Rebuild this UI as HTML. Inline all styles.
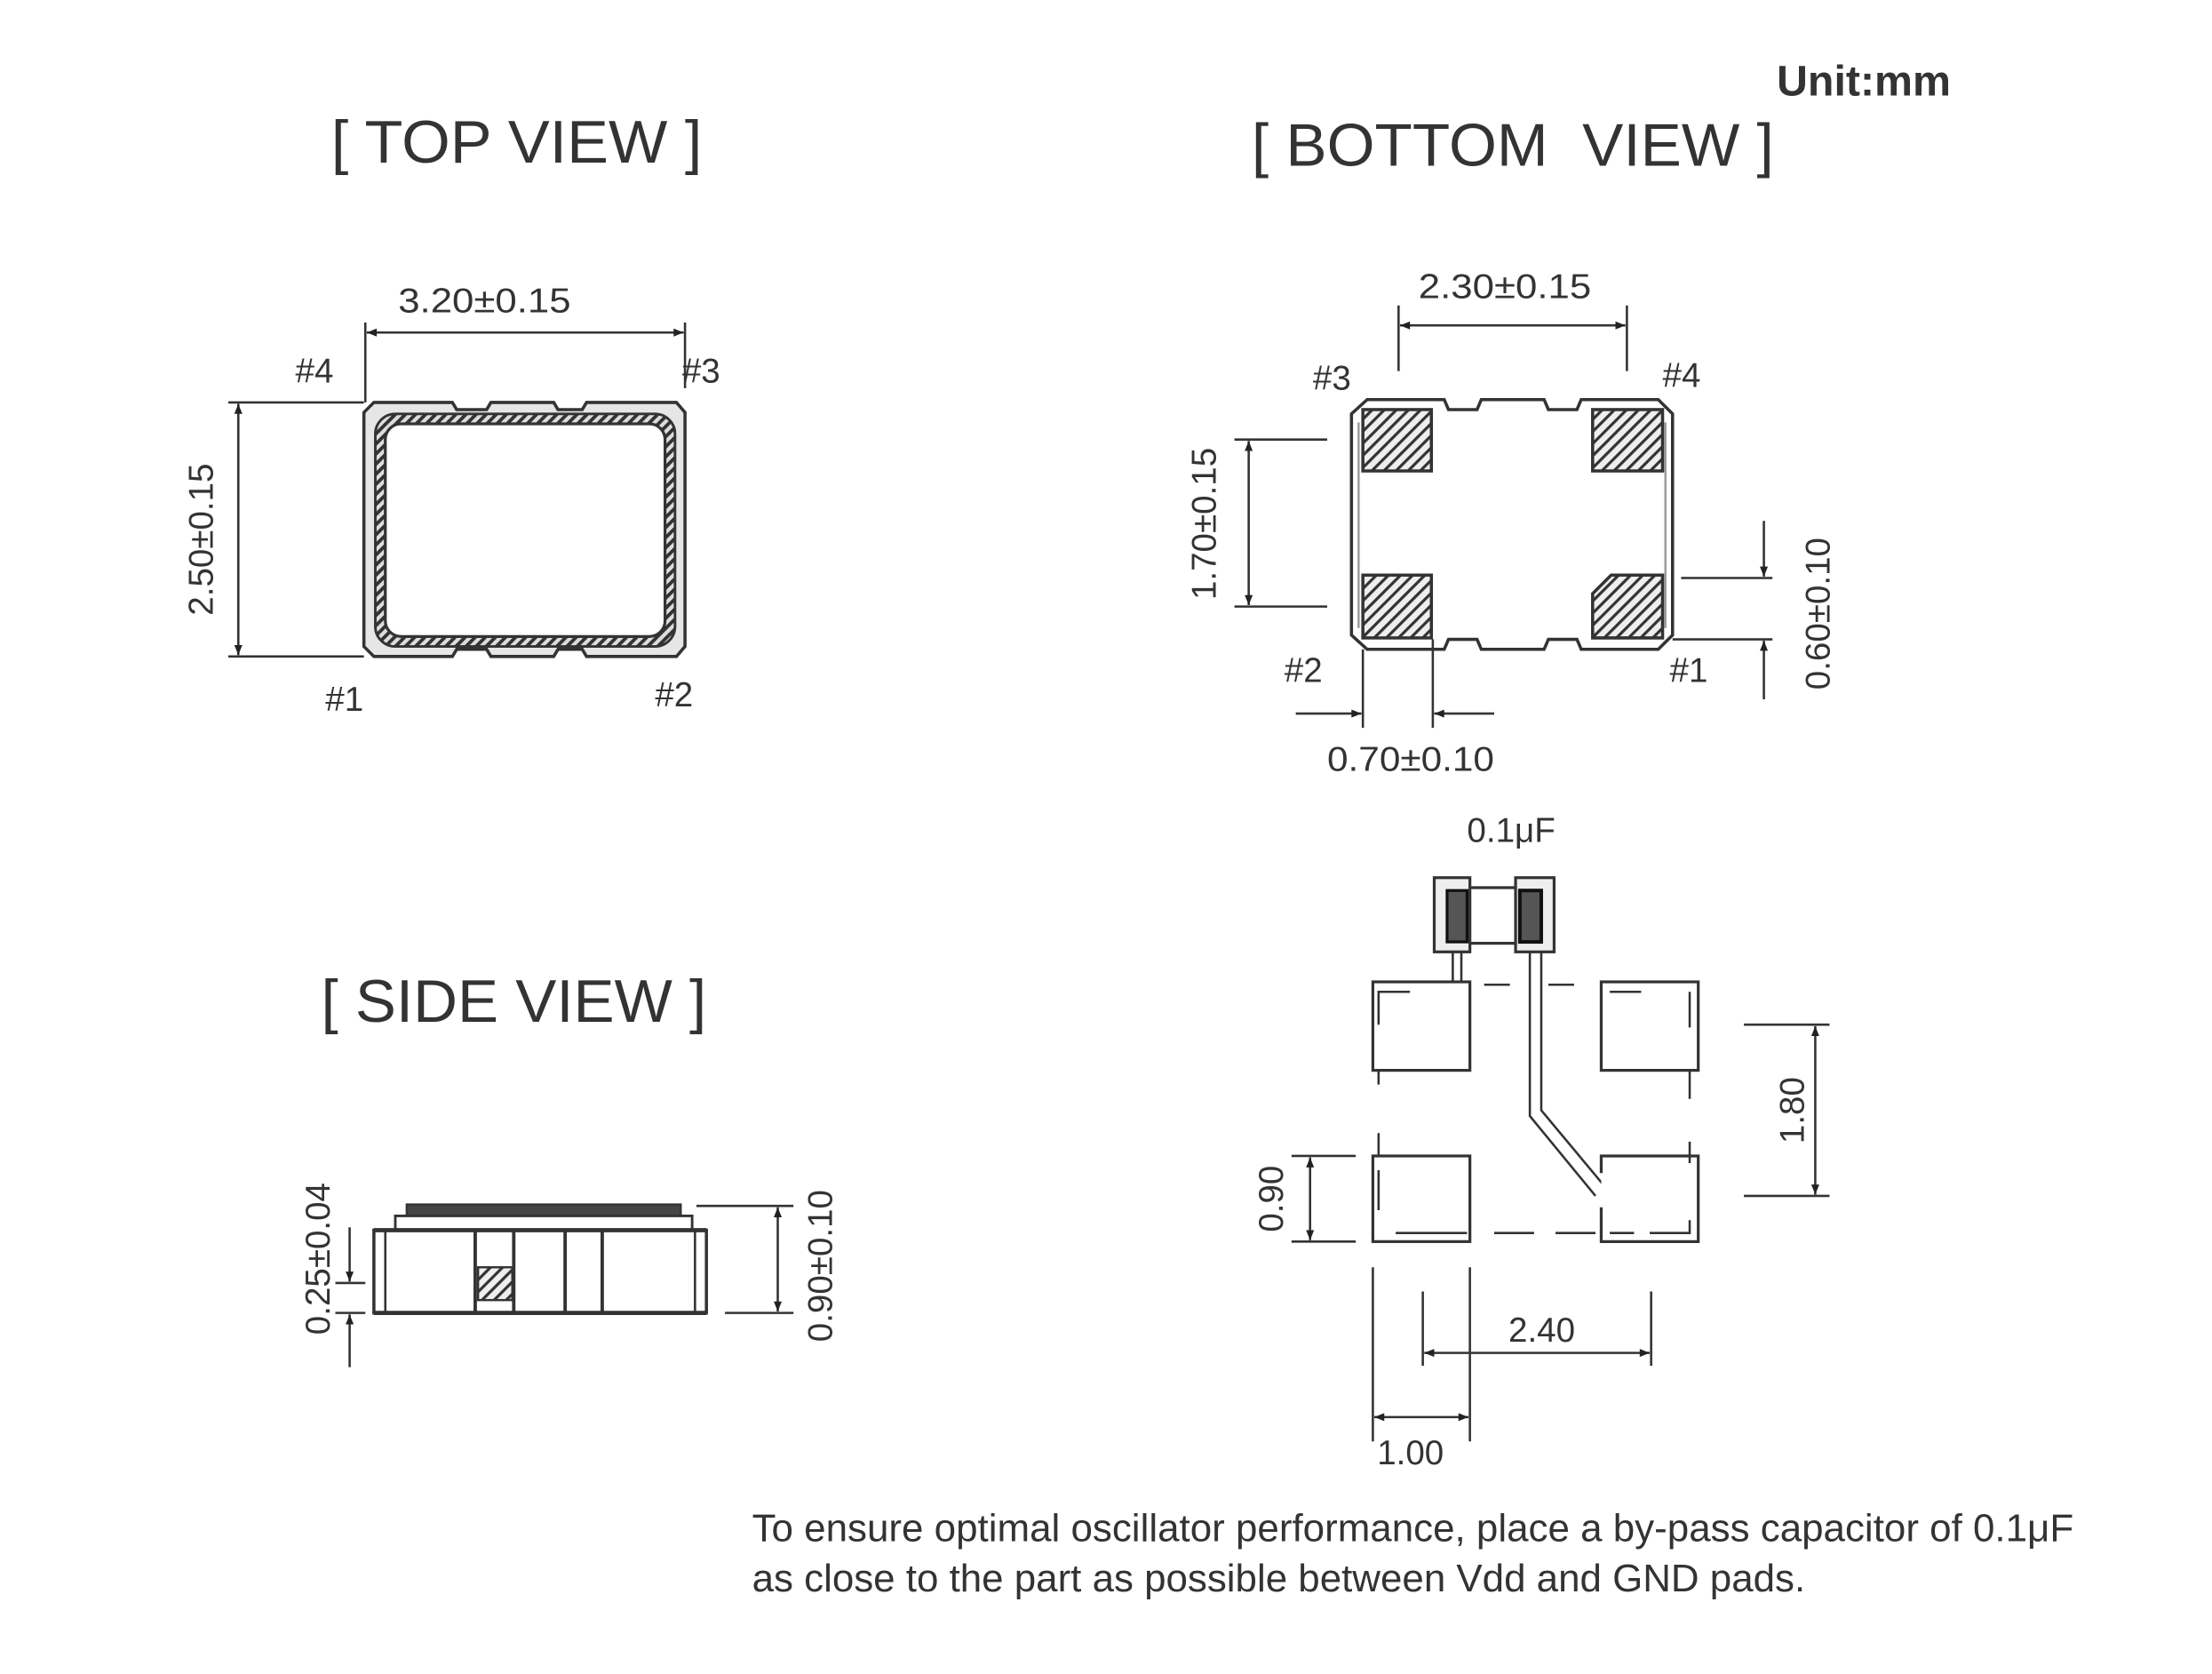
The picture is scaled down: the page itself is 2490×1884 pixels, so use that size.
<!DOCTYPE html>
<html><head><meta charset="utf-8"><style>
html,body{margin:0;padding:0;background:#fff;}
svg{display:block;}
text{font-family:"Liberation Sans",Arial,sans-serif;fill:#333;}
</style></head><body>
<svg width="2490" height="1884" viewBox="0 0 1550 1173" preserveAspectRatio="none" xmlns="http://www.w3.org/2000/svg">
<defs>
<pattern id="h" width="6" height="6" patternUnits="userSpaceOnUse" patternTransform="rotate(45)">
<rect width="6" height="6" fill="#eee"/><rect width="2" height="6" fill="#333"/></pattern>
<pattern id="hr" width="5" height="5" patternUnits="userSpaceOnUse" patternTransform="rotate(45)">
<rect width="5" height="5" fill="#ddd"/><rect width="2.4" height="5" fill="#333"/></pattern>
<marker id="a" viewBox="0 0 10 10" refX="10" refY="5" markerWidth="14" markerHeight="7" orient="auto-start-reverse" markerUnits="userSpaceOnUse"><path d="M0,1 L10,5 L0,9 z" fill="#222"/></marker>
</defs>
<g stroke="#333" fill="none" stroke-width="1.6">

<!-- TOP VIEW -->
<path d="M262,282 L317,282 L320,287 L341,287 L344,282 L388,282 L391,287 L408,287 L411,282 L474,282 L480,289 L480,453 L474,460 L411,460 L408,455 L391,455 L388,460 L344,460 L341,455 L320,455 L317,460 L262,460 L255,453 L255,289 Z" fill="#e6e6e6" stroke-width="2.2"/>
<rect x="263" y="290" width="210" height="163" rx="14" fill="url(#hr)" stroke-width="1.8"/>
<rect x="270" y="297" width="196" height="149" rx="11" fill="#fff" stroke-width="2"/>
<line x1="256" y1="226" x2="256" y2="282"/>
<line x1="480" y1="226" x2="480" y2="272"/>
<line x1="257" y1="233" x2="479" y2="233" marker-start="url(#a)" marker-end="url(#a)"/>
<line x1="160" y1="282" x2="255" y2="282"/>
<line x1="160" y1="460" x2="255" y2="460"/>
<line x1="167" y1="283" x2="167" y2="459" marker-start="url(#a)" marker-end="url(#a)"/>

<!-- BOTTOM VIEW -->
<path d="M958,280 L1012,280 L1015,287 L1035,287 L1038,280 L1082,280 L1085,287 L1105,287 L1108,280 L1162,280 L1172,290 L1172,445 L1162,455 L1108,455 L1105,448 L1085,448 L1082,455 L1038,455 L1035,448 L1015,448 L1012,455 L958,455 L947,445 L947,290 Z" fill="#fff" stroke-width="2.2"/>
<line x1="952" y1="296" x2="952" y2="440" stroke="#999" stroke-width="1.5"/>
<line x1="1167" y1="296" x2="1167" y2="440" stroke="#999" stroke-width="1.5"/>
<rect x="955" y="287" width="48" height="43" fill="url(#h)" stroke-width="2.2"/>
<rect x="1116" y="287" width="49" height="43" fill="url(#h)" stroke-width="2.2"/>
<rect x="955" y="403" width="48" height="44" fill="url(#h)" stroke-width="2.2"/>
<path d="M1129,403 L1165,403 L1165,447 L1116,447 L1116,416 Z" fill="url(#h)" stroke-width="2.2"/>
<line x1="980" y1="214" x2="980" y2="260"/>
<line x1="1140" y1="214" x2="1140" y2="260"/>
<line x1="981" y1="228" x2="1139" y2="228" marker-start="url(#a)" marker-end="url(#a)"/>
<line x1="865" y1="308" x2="930" y2="308"/>
<line x1="865" y1="425" x2="930" y2="425"/>
<line x1="875" y1="309" x2="875" y2="424" marker-start="url(#a)" marker-end="url(#a)"/>
<line x1="1178" y1="405" x2="1242" y2="405"/>
<line x1="1172" y1="448" x2="1242" y2="448"/>
<line x1="1236" y1="365" x2="1236" y2="404" marker-end="url(#a)"/>
<line x1="1236" y1="490" x2="1236" y2="449" marker-end="url(#a)"/>
<line x1="955" y1="455" x2="955" y2="510"/>
<line x1="1004" y1="448" x2="1004" y2="510"/>
<line x1="908" y1="500" x2="954" y2="500" marker-end="url(#a)"/>
<line x1="1047" y1="500" x2="1005" y2="500" marker-end="url(#a)"/>

<!-- LAND PATTERN -->
<rect x="1005" y="615" width="25" height="52" fill="#eee" stroke-width="2"/>
<rect x="1062" y="615" width="27" height="52" fill="#eee" stroke-width="2"/>
<rect x="1014" y="624" width="14" height="36" fill="#555" stroke="#111" stroke-width="2"/>
<rect x="1065" y="624" width="15" height="36" fill="#555" stroke="#111" stroke-width="2.5"/>
<line x1="1030" y1="622" x2="1062" y2="622" stroke-width="2"/>
<line x1="1030" y1="661" x2="1062" y2="661" stroke-width="2"/>
<path d="M1018,667 L1018,688 M1024,667 L1024,688" stroke-width="1.6"/>
<path d="M1072,667 L1072,782 L1118,838 M1080,667 L1080,778 L1125,832" stroke-width="1.6"/>
<rect x="962" y="688" width="68" height="62" fill="#fff" stroke-width="2"/>
<rect x="1122" y="688" width="68" height="62" fill="#fff" stroke-width="2"/>
<rect x="962" y="810" width="68" height="60" fill="#fff" stroke-width="2"/>
<path d="M1122,822 L1122,810 L1190,810 L1190,870 L1122,870 L1122,846" fill="#fff" stroke-width="2"/>
<path d="M966,718 L966,695 L988,695 M1184,695 L1184,720 M1128,695 L1150,695 M966,820 L966,848 M978,864 L1028,864 M1184,855 L1184,864 L1156,864" stroke-width="1.6"/>
<path d="M1040,690 L1058,690 M1085,690 L1103,690 M1047,864 L1075,864 M1090,864 L1118,864 M1128,864 L1145,864" stroke-width="1.6"/>
<path d="M966,750 L966,760 M966,794 L966,810 M1184,750 L1184,770 M1184,800 L1184,815" stroke-width="1.6"/>
<line x1="1222" y1="718" x2="1282" y2="718"/>
<line x1="1222" y1="838" x2="1282" y2="838"/>
<line x1="1272" y1="719" x2="1272" y2="837" marker-start="url(#a)" marker-end="url(#a)"/>
<line x1="905" y1="810" x2="950" y2="810"/>
<line x1="905" y1="870" x2="950" y2="870"/>
<line x1="918" y1="811" x2="918" y2="869" marker-start="url(#a)" marker-end="url(#a)"/>
<line x1="962" y1="888" x2="962" y2="1010"/>
<line x1="1030" y1="888" x2="1030" y2="1010"/>
<line x1="997" y1="905" x2="997" y2="957"/>
<line x1="1157" y1="905" x2="1157" y2="957"/>
<line x1="998" y1="948" x2="1156" y2="948" marker-start="url(#a)" marker-end="url(#a)"/>
<line x1="963" y1="993" x2="1029" y2="993" marker-start="url(#a)" marker-end="url(#a)"/>

<!-- SIDE VIEW -->
<rect x="285" y="844" width="192" height="9" fill="#444" stroke-width="1.5"/>
<rect x="277" y="852" width="208" height="10" fill="#fff" stroke-width="1.8"/>
<rect x="262" y="862" width="233" height="58" fill="#fff" stroke-width="2.2"/>
<line x1="270" y1="862" x2="270" y2="920" stroke-width="1.6"/>
<line x1="487" y1="862" x2="487" y2="920" stroke-width="1.6"/>
<line x1="262" y1="862" x2="495" y2="862" stroke-width="3"/>
<line x1="262" y1="920" x2="495" y2="920" stroke-width="3"/>
<line x1="333" y1="862" x2="333" y2="920" stroke-width="2.4"/>
<line x1="360" y1="862" x2="360" y2="920" stroke-width="2.4"/>
<line x1="396" y1="862" x2="396" y2="920" stroke-width="2.4"/>
<line x1="422" y1="862" x2="422" y2="920" stroke-width="2.4"/>
<rect x="335" y="888" width="24" height="23" fill="url(#h)" stroke-width="1.5"/>
<line x1="235" y1="899" x2="256" y2="899"/>
<line x1="235" y1="920" x2="256" y2="920"/>
<line x1="245" y1="860" x2="245" y2="898" marker-end="url(#a)"/>
<line x1="245" y1="958" x2="245" y2="921" marker-end="url(#a)"/>
<line x1="488" y1="845" x2="556" y2="845"/>
<line x1="508" y1="920" x2="556" y2="920"/>
<line x1="545" y1="846" x2="545" y2="919" marker-start="url(#a)" marker-end="url(#a)"/>
</g>

<g font-size="24">
<text x="1245" y="67" font-size="30" font-weight="bold" textLength="122" lengthAdjust="spacingAndGlyphs">Unit:mm</text>
<text x="232" y="114" font-size="42" textLength="260" lengthAdjust="spacingAndGlyphs">[ TOP VIEW ]</text>
<text x="877" y="116" font-size="42" textLength="366" lengthAdjust="spacingAndGlyphs" xml:space="preserve">[ BOTTOM  VIEW ]</text>
<text x="225" y="716" font-size="42" textLength="270" lengthAdjust="spacingAndGlyphs">[ SIDE VIEW ]</text>
<text x="279" y="219" textLength="121" lengthAdjust="spacingAndGlyphs">3.20±0.15</text>
<text x="207" y="268">#4</text><text x="478" y="268">#3</text>
<text x="228" y="498">#1</text><text x="459" y="495">#2</text>
<text transform="translate(149,378) rotate(-90)" text-anchor="middle">2.50±0.15</text>
<text x="994" y="209" textLength="121" lengthAdjust="spacingAndGlyphs">2.30±0.15</text>
<text x="920" y="273">#3</text><text x="1165" y="271">#4</text>
<text x="900" y="478">#2</text><text x="1170" y="478">#1</text>
<text transform="translate(852,367) rotate(-90)" text-anchor="middle">1.70±0.15</text>
<text transform="translate(1282,430) rotate(-90)" text-anchor="middle">0.60±0.10</text>
<text x="930" y="540" textLength="117" lengthAdjust="spacingAndGlyphs">0.70±0.10</text>
<text x="1028" y="590">0.1μF</text>
<text transform="translate(1264,778) rotate(-90)" text-anchor="middle">1.80</text>
<text transform="translate(899,840) rotate(-90)" text-anchor="middle">0.90</text>
<text x="1057" y="940">2.40</text>
<text x="965" y="1026">1.00</text>
<text transform="translate(231,882) rotate(-90)" text-anchor="middle">0.25±0.04</text>
<text transform="translate(583,887) rotate(-90)" text-anchor="middle">0.90±0.10</text>
<text x="527" y="1080" font-size="27" textLength="926" lengthAdjust="spacingAndGlyphs">To ensure optimal oscillator performance, place a by-pass capacitor of 0.1μF</text>
<text x="527" y="1115" font-size="27" textLength="738" lengthAdjust="spacingAndGlyphs">as close to the part as possible between Vdd and GND pads.</text>
</g>
</svg>
</body></html>
